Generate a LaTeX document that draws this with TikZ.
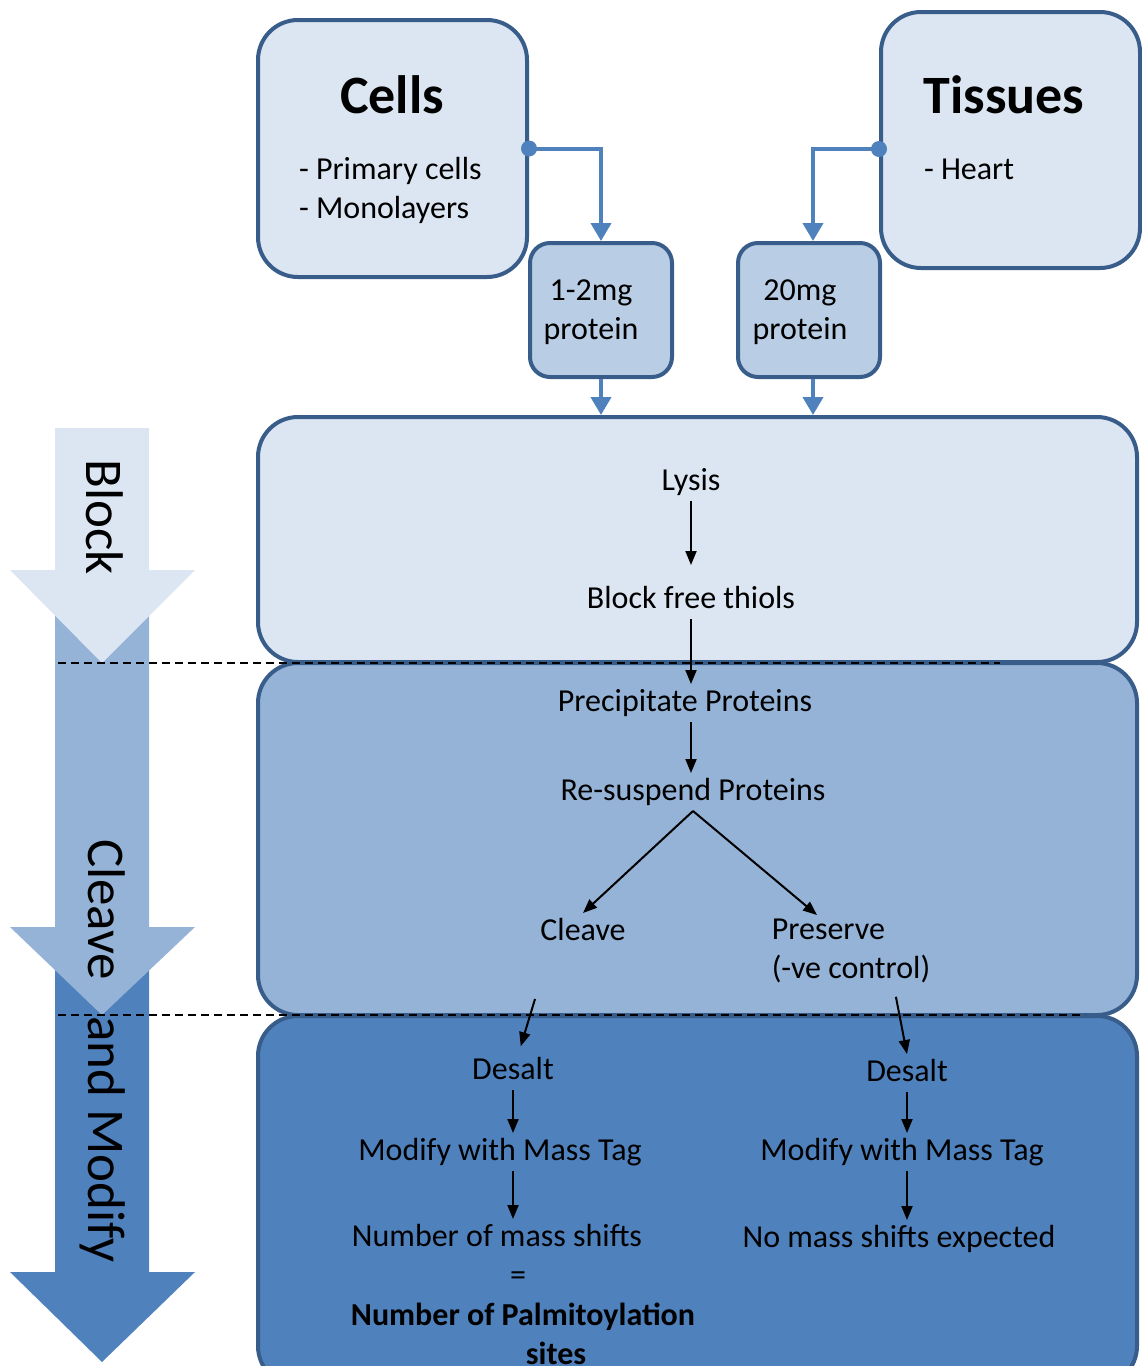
\documentclass[tikz,border=0pt]{standalone}
\usepackage{fontspec}
\setmainfont{Carlito}
\usetikzlibrary{arrows.meta}

\definecolor{paleblue}{HTML}{DCE6F2}
\definecolor{softblue}{HTML}{B9CDE5}
\definecolor{midblue}{HTML}{95B3D7}
\definecolor{deepblue}{HTML}{4F81BD}
\definecolor{edgeblue}{HTML}{385D8A}

\begin{document}
\begin{tikzpicture}[x=1pt,y=-1pt,>={Triangle[length=14pt,width=11pt]},line width=2pt]
        \tikzstyle{box}=[draw=edgeblue,line width=4pt,rounded corners=40pt,inner sep=0pt]
        \tikzstyle{smallbox}=[box,fill=softblue,rounded corners=20pt,minimum width=142pt,minimum height=134pt]
        \tikzstyle{conn}=[draw=deepblue,line width=4pt,-{Triangle[length=18pt,width=20pt]}]
        \tikzstyle{title}=[font=\bfseries\fontsize{54}{60}\selectfont]
        \tikzstyle{txt}=[font=\fontsize{32}{39}\selectfont,inner sep=3pt]
        \tikzstyle{lbl}=[txt,text height=23pt,text depth=7pt]
        \tikzstyle{phase}=[rotate=-90,font=\fontsize{53}{60}\selectfont]
        \tikzstyle{divider}=[dashed,line width=1.5pt,dash pattern=on 8pt off 5pt]

        \useasboundingbox (0,0) rectangle (1142,1366);

        % phase arrows on the left
        \foreach \top/\neck/\tip/\col in {960/1272/1362/deepblue, 600/927/1015/midblue, 428/570/663/paleblue}
          \fill[\col] (55,\top) -- (149,\top) -- (149,\neck) -- (195,\neck) -- (102,\tip)
                      -- (10,\neck) -- (55,\neck) -- cycle;
        \node[phase] (blocklbl)  at (105,517)  {Block};
        \node[phase] (cleavelbl) at (103,1051) {Cleave\hspace{36pt}and Modify};

        % sources
        \node[box,fill=paleblue,minimum width=269pt,minimum height=257pt] (cells)   at (392.5,148.5) {};
        \node[box,fill=paleblue,minimum width=259pt,minimum height=256pt] (tissues) at (1010.5,140)  {};
        \node[smallbox] (mg12) at (601,310) {};
        \node[smallbox] (mg20) at (809,310) {};
        \node[txt,align=center] (mg12txt) at (591,312) {1-2mg\\protein};
        \node[txt,align=center] (mg20txt) at (800,312) {20mg\\protein};

        % stages
        \node[box,fill=paleblue,minimum width=879pt,minimum height=245pt] (blockzone)  at (697.5,539.5) {};
        \node[box,fill=midblue, minimum width=879pt,minimum height=352pt] (cleavezone) at (697.5,839)   {};
        \node[box,fill=deepblue,minimum width=879pt,minimum height=370pt] (modzone)    at (697.5,1201)  {};

        \draw[divider] (58,663) -- (1000,663);
        \draw[divider] (58,1015) -- (1085,1015);

        \node[title] (cellsttl)   at (392,95)  {Cells};
        \node[title] (tissuesttl) at (1004,95) {Tissues};
        \node[txt,align=left,anchor=west] (celllist)   at (295,190) {- Primary cells\\- Monolayers};
        \node[txt,anchor=west]            (tissuelist) at (920,169) {- Heart};

        \fill[deepblue] (cells.east) circle (8pt);
        \fill[deepblue] ([yshift=-9pt]tissues.west) circle (8pt);
        \draw[conn] (cells.east) -| (mg12.north);
        \draw[conn] ([yshift=-9pt]tissues.west) -| ([xshift=4pt]mg20.north);
        \draw[conn] (mg12.south) -- (mg12.south |- blockzone.north);
        \draw[conn] ([xshift=4pt]mg20.south) -- ([xshift=4pt]mg20.south |- blockzone.north);

        \node[lbl] (lysis)    at (691,482)  {Lysis};
        \node[lbl] (blockt)   at (691,600)  {Block free thiols};
        \node[lbl] (precip)   at (685,703)  {Precipitate Proteins};
        \node[lbl] (resusp)   at (693,792)  {Re-suspend Proteins};
        \node[lbl] (cleavet)  at (583,932)  {Cleave};
        \node[txt,align=left] (preserve) at (851,951) {Preserve\\(-ve control)};
        \node[lbl] (desalt1)  at (513,1071) {Desalt};
        \node[lbl] (modify1)  at (500,1152) {Modify with Mass Tag};
        \node[lbl] (shifts1)  at (497,1238) {Number of mass shifts};
        \node[lbl] (equals)   at (518,1277) {=};
        \node[txt,align=center,font=\bfseries\fontsize{32}{39}\selectfont] (palm) at (523,1334)
              {Number of Palmitoylation\\\hspace*{66pt}sites};
        \node[lbl] (desalt2)  at (907,1073) {Desalt};
        \node[lbl] (modify2)  at (902,1152) {Modify with Mass Tag};
        \node[lbl] (noshift)  at (899,1239) {No mass shifts expected};

        \path[->] (lysis)                  edge [shorten >=16pt] (blockt)
                  (blockt)                 edge                  (blockt |- precip.north)
                  (blockt |- precip.south) edge                  (blockt |- resusp.north)
                  (resusp.south)           edge                  (cleavet.north)
                  (resusp.south)           edge                  ([xshift=-34pt]preserve.north)
                  ([xshift=-48pt,yshift=-48pt]cleavet.south) edge [shorten >=6pt] ([xshift=6pt]desalt1.north)
                  ([xshift=43pt]preserve.south) edge [shorten <=10pt] (desalt2.north)
                  (desalt1.south)          edge                  (desalt1.south |- modify1.north)
                  (desalt1 |- modify1.south) edge                (desalt1 |- shifts1.north)
                  (desalt2.south)          edge                  (desalt2.south |- modify2.north)
                  (desalt2 |- modify2.south) edge                (desalt2 |- noshift.north);
\end{tikzpicture}
\end{document}
